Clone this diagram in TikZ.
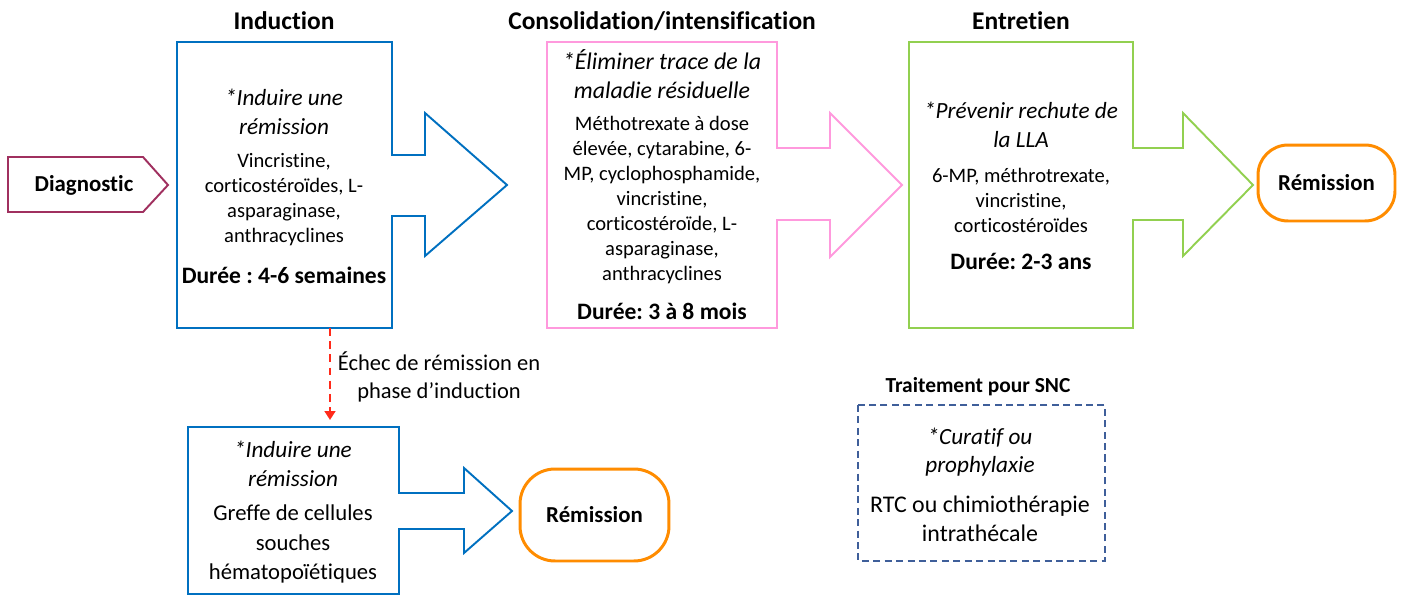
\documentclass[tikz,border=0pt]{standalone}
\usepackage{fontspec}
\setmainfont{Carlito}[Ligatures=NoCommon]
\frenchspacing
\usetikzlibrary{arrows.meta}
\definecolor{indblue}{HTML}{0070C0}
\definecolor{conspink}{HTML}{FF99DD}
\definecolor{entgreen}{HTML}{92D050}
\definecolor{remorange}{HTML}{FF8C00}
\definecolor{diagplum}{HTML}{A0305F}
\definecolor{failred}{HTML}{FF2A1A}
\definecolor{sncblue}{HTML}{3F5F9A}
\tikzset{
	phase/.style={font=\fontsize{14.5}{17}\selectfont\bfseries},
	goal/.style={align=center,font=\fontsize{13.2}{16.2}\selectfont\itshape},
	drugs/.style={align=center,font=\fontsize{11.7}{14.2}\selectfont},
	duree/.style={font=\fontsize{13.4}{16}\selectfont\bfseries},
	callout/.style={line width=1.1pt,line join=miter},
	endbox/.style={draw=remorange,line width=1.7pt,rounded corners=0.6cm,
		font=\fontsize{13}{16}\selectfont\bfseries},
}
\begin{document}
\begin{tikzpicture}[x=0.02cm,y=-0.02cm]
		\useasboundingbox (0,0) rectangle (1418,595);
		% titres des phases
		\node[phase] (tind) at (284,21) {Induction};
		\node[phase] (tcons) at (662,21) {Consolidation/intensification};
		\node[phase] (tent) at (1021,21) {Entretien};
		% diagnostic
		\draw[diagplum,line width=1.1pt] (8,157) -- (143,157) -- (168,185) -- (143,212) -- (8,212) -- cycle;
		\node[font=\fontsize{13}{16}\selectfont\bfseries] (diag) at (84,185) {Diagnostic};
		% induction
		\draw[callout,indblue] (177,42) -- (392,42) -- (392,155) -- (425,155) -- (425,113) -- (507,185)
			-- (425,256) -- (425,216) -- (392,216) -- (392,328) -- (177,328) -- cycle;
		\node[goal] (indgoal) at (284,112) {*Induire une\\rémission};
		\node[drugs] (inddrugs) at (284,200) {Vincristine,\\corticostéroïdes, L-\\asparaginase,\\anthracyclines};
		\node[duree] (indtime) at (284,275) {Durée : 4-6 semaines};
		% consolidation / intensification
		\draw[callout,conspink] (547,42) -- (777,42) -- (777,148) -- (830,148) -- (830,113) -- (902,185)
			-- (830,257) -- (830,220) -- (777,220) -- (777,328) -- (547,328) -- cycle;
		\node[goal,font=\fontsize{13.6}{16.6}\selectfont\itshape] (consgoal) at (662,74) {*Éliminer trace de la\\maladie résiduelle};
		\node[drugs] (consdrugs) at (662,200) {Méthotrexate à dose\\élevée, cytarabine, 6-\\MP, cyclophosphamide,\\vincristine,\\corticostéroïde, L-\\asparaginase,\\anthracyclines};
		\node[duree] (constime) at (662,311) {Durée: 3 à 8 mois};
		% entretien
		\draw[callout,entgreen] (909,42) -- (1133,42) -- (1133,148) -- (1183,148) -- (1183,113) -- (1253,185)
			-- (1183,256) -- (1183,220) -- (1133,220) -- (1133,328) -- (909,328) -- cycle;
		\node[goal] (entgoal) at (1021,125) {*Prévenir rechute de\\la LLA};
		\node[drugs] (entdrugs) at (1021,200) {6-MP, méthrotrexate,\\vincristine,\\corticostéroïdes};
		\node[duree] (enttime) at (1021,261) {Durée: 2-3 ans};
		\node[endbox,minimum width=2.74cm,minimum height=1.52cm] (rem) at (1326.5,183) {Rémission};
		% echec d'induction
		\coordinate (failstart) at (330,328);
		\coordinate (failend) at (330,420);
		\draw[failred,line width=1.7pt,dash pattern=on 4.5pt off 3pt,-{Triangle[length=5pt,width=6pt]}] (failstart) -- (failend);
		\node[align=center,font=\fontsize{12.8}{16.2}\selectfont] (fail) at (439,377) {Échec de rémission en\\phase d’induction};
		\draw[callout,indblue] (188,427) -- (399,427) -- (399,493) -- (464,493) -- (464,468) -- (512,511)
			-- (464,553) -- (464,529) -- (399,529) -- (399,594) -- (188,594) -- cycle;
		\node[goal] (bisgoal) at (293,464) {*Induire une\\rémission};
		\node[align=center,font=\fontsize{12.9}{16.6}\selectfont] (greffe) at (293,544) {Greffe de cellules\\souches\\hématopoïétiques};
		\node[endbox,rounded corners=0.7cm,minimum width=2.98cm,minimum height=1.84cm] (rembis) at (594.5,515) {Rémission};
		% SNC
		\node[font=\fontsize{12.2}{14}\selectfont\bfseries] (tsnc) at (978,387) {Traitement pour SNC};
		\draw[sncblue,line width=0.85pt,dash pattern=on 4pt off 2.5pt] (858,405) rectangle (1105,561);
		\node[goal] (sncgoal) at (980,452) {*Curatif ou\\prophylaxie};
		\node[align=center,font=\fontsize{13.6}{16.2}\selectfont] (sncdrugs) at (980,519) {RTC ou chimiothérapie\\intrathécale};
	\end{tikzpicture}
\end{document}
